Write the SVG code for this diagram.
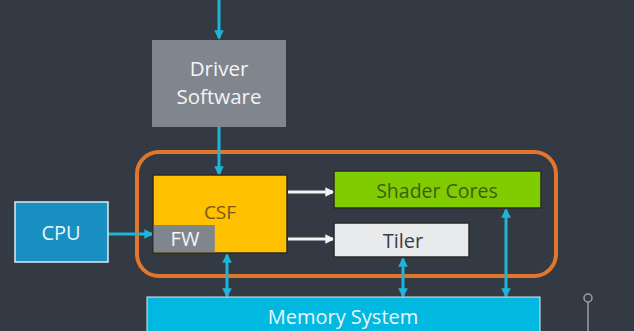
<svg xmlns="http://www.w3.org/2000/svg" width="634" height="331" viewBox="0 0 634 331">
<defs>
<style>
text{font-family:"Open Sans","Noto Sans","DejaVu Sans",sans-serif;text-anchor:middle;dominant-baseline:central}
.c{stroke:#1fb4d8;stroke-width:3;fill:none}
.w{stroke:#f2f2f2;stroke-width:3;fill:none}
</style>
<marker id="ac" viewBox="0 0 10 10" refX="8" refY="5" markerWidth="3.2" markerHeight="3.2" orient="auto-start-reverse"><path d="M0,0L10,5L0,10z" fill="#1fb4d8"/></marker>
<marker id="aw" viewBox="0 0 10 10" refX="8" refY="5" markerWidth="3.2" markerHeight="3.2" orient="auto"><path d="M0,0L10,5L0,10z" fill="#f2f2f2"/></marker>
</defs>
<rect width="634" height="331" fill="#333a44"/>
<rect x="137" y="152" width="419" height="124" rx="22" fill="none" stroke="#e2762a" stroke-width="4"/>
<g id="connectors">
<line class="c" x1="219" y1="0" x2="219" y2="38" marker-end="url(#ac)"/>
<line class="c" x1="219" y1="127" x2="219" y2="174" marker-end="url(#ac)"/>
<line class="c" x1="108" y1="234" x2="152" y2="234" marker-end="url(#ac)"/>
<line class="w" x1="288" y1="192" x2="333" y2="192" marker-end="url(#aw)"/>
<line class="w" x1="288" y1="239" x2="333" y2="239" marker-end="url(#aw)"/>
<line class="c" x1="227" y1="255" x2="227" y2="296" marker-start="url(#ac)" marker-end="url(#ac)"/>
<line class="c" x1="403" y1="259" x2="403" y2="296" marker-start="url(#ac)" marker-end="url(#ac)"/>
<line class="c" x1="506" y1="210" x2="506" y2="296" marker-start="url(#ac)" marker-end="url(#ac)"/>
</g>
<g id="driver">
<rect x="152" y="40" width="134" height="87" fill="#80868d"/>
<text font-size="20.5" fill="#f4f4f4"><tspan x="219" y="67.5">Driver</tspan><tspan x="219" y="95.5">Software</tspan></text>
</g>
<g id="csf">
<rect x="153" y="175" width="134" height="78" fill="#ffc000" stroke="#2a2a2a" stroke-width="1.5"/>
<text x="220" y="212" font-size="19" fill="#74591a">CSF</text>
</g>
<g id="fw">
<rect x="153.8" y="225" width="61" height="27.2" fill="#80868d"/>
<text x="185" y="238" font-size="20" fill="#f4f4f4">FW</text>
</g>
<g id="cpu">
<rect x="15" y="202" width="93" height="60" fill="#1a8fc2" stroke="#d8eef6" stroke-width="1.5"/>
<text x="61" y="232" font-size="20" fill="#e6f6fb">CPU</text>
</g>
<g id="shader">
<rect x="334" y="171" width="207" height="37" fill="#80cc00" stroke="#2a2a2a" stroke-width="1.5"/>
<text x="437" y="190" font-size="19.5" fill="#3d5e12">Shader Cores</text>
</g>
<g id="tiler">
<rect x="334" y="223" width="135" height="34" fill="#e8eaec" stroke="#2a2a2a" stroke-width="1.5"/>
<text x="403" y="240" font-size="20" fill="#3a3f46">Tiler</text>
</g>
<g id="memory">
<rect x="147" y="297" width="393" height="40" fill="#00b8e0" stroke="#d8eef6" stroke-width="1"/>
<text x="343" y="316" font-size="20" fill="#eaf8fc">Memory System</text>
</g>
<g id="pin">
<circle cx="588" cy="298" r="4" fill="none" stroke="#9aa0a6" stroke-width="1.5"/>
<line x1="588" y1="302" x2="588" y2="331" stroke="#9aa0a6" stroke-width="1.5"/>
</g>
</svg>
